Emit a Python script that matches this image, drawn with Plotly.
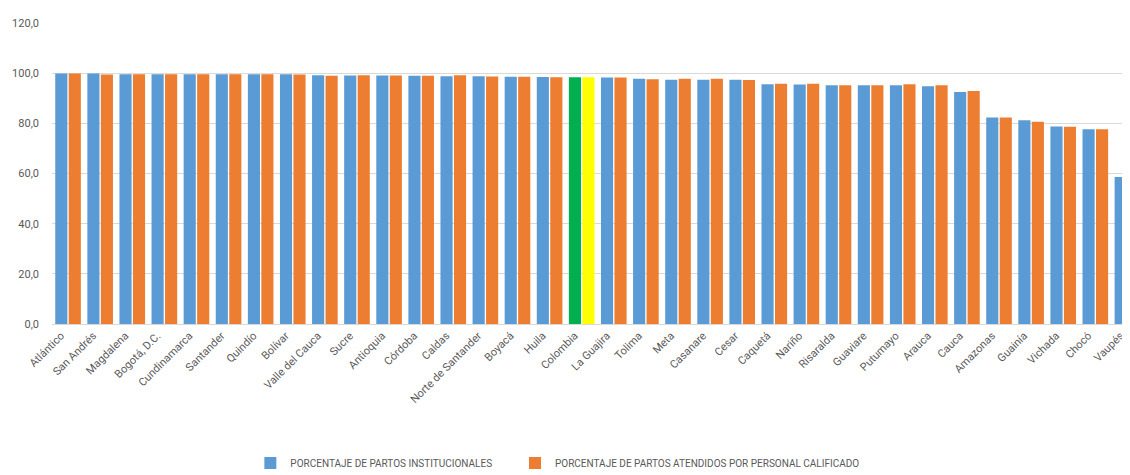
import plotly.graph_objects as go

categories = ["Atlántico", "San Andrés", "Magdalena", "Bogotá, D.C.", "Cundinamarca", "Santander",
              "Quindío", "Bolívar", "Valle del Cauca", "Sucre", "Antioquia", "Córdoba", "Caldas",
              "Norte de Santander", "Boyacá", "Huila", "Colombia", "La Guajira", "Tolima", "Meta",
              "Casanare", "Cesar", "Caquetá", "Nariño", "Risaralda", "Guaviare", "Putumayo", "Arauca",
              "Cauca", "Amazonas", "Guainía", "Vichada", "Chocó", "Vaupés"]

institucionales = [99.9, 99.9, 99.6, 99.6, 99.6, 99.6, 99.6, 99.6, 99.2, 99.1, 99.1, 99.0, 98.8,
                   98.8, 98.6, 98.5, 98.4, 98.3, 97.8, 97.4, 97.4, 97.4, 95.6, 95.5, 95.2, 95.2,
                   95.2, 94.8, 92.5, 82.3, 81.2, 78.7, 77.6, 58.6]

calificado = [99.9, 99.5, 99.6, 99.6, 99.6, 99.6, 99.6, 99.5, 99.0, 99.2, 99.1, 99.0, 99.2,
              98.7, 98.6, 98.4, 98.4, 98.3, 97.6, 97.8, 97.8, 97.3, 95.8, 95.8, 95.2, 95.2,
              95.6, 95.2, 92.9, 82.3, 80.6, 78.6, 77.6, 58.8]

serie1 = "PORCENTAJE DE PARTOS INSTITUCIONALES"
serie2 = "PORCENTAJE DE PARTOS ATENDIDOS POR PERSONAL CALIFICADO"

BLUE, ORANGE, GREEN, YELLOW = "#5B9BD5", "#ED7D31", "#00B050", "#FFFF00"
colors1 = [GREEN if c == "Colombia" else BLUE for c in categories]
colors2 = [YELLOW if c == "Colombia" else ORANGE for c in categories]

FONT = "Liberation Sans Narrow, Roboto, Open Sans, sans-serif"
TXT = "#595959"

fig = go.Figure()
fig.add_trace(go.Bar(x=categories, y=institucionales, name=serie1, legend="legend",
                     marker=dict(color=colors1, line_width=0)))
fig.add_trace(go.Bar(x=categories, y=calificado, name=serie2, legend="legend2",
                     marker=dict(color=colors2, line_width=0)))

legend_common = dict(orientation="h", xanchor="left", y=-0.46, yanchor="middle",
                     font=dict(size=10, color=TXT), itemwidth=30, bgcolor="rgba(0,0,0,0)")

fig.update_layout(
    width=1122, height=467,
    margin=dict(l=44, r=0, t=14, b=151, autoexpand=False),
    paper_bgcolor="white", plot_bgcolor="white",
    barmode="group", bargap=0.16, bargroupgap=0.1,
    separators=",.",
    font=dict(family=FONT, size=11, color=TXT),
    showlegend=True,
    legend=dict(x=0.184, **legend_common),
    legend2=dict(x=0.4295, **legend_common),
    xaxis=dict(range=[-0.5, 33.08], tickangle=-45, showgrid=False, automargin=False,
               showline=True, linecolor="#D9D9D9", ticks="", ticklabelshift=-7,
               tickfont=dict(size=11, color=TXT)),
    yaxis=dict(range=[0, 120.4], tickvals=[0, 20, 40, 60, 80, 100, 120], tickformat=".1f",
               showgrid=True, automargin=False,
               gridcolor="#D9D9D9", zeroline=False, showline=False, ticks="",
               ticklabelstandoff=12, tickfont=dict(size=11, color=TXT)),
)

fig.write_html("out.html")
